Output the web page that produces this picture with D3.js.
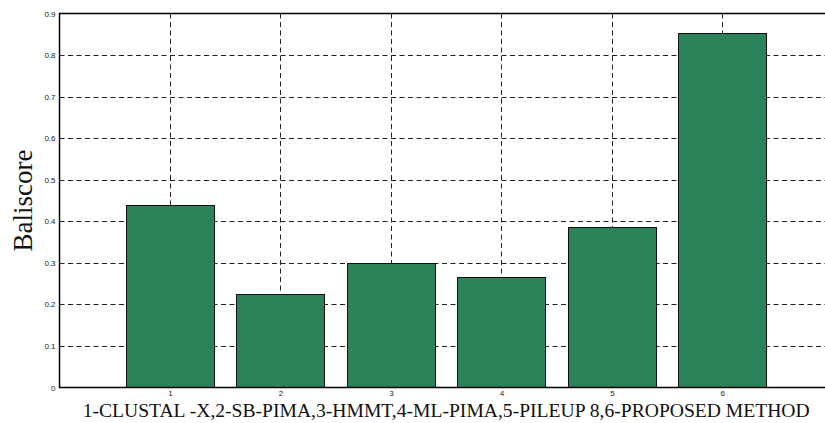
<!DOCTYPE html>
<html><head><meta charset="utf-8">
<script src="https://cdn.jsdelivr.net/npm/d3@7"></script>
<style>body{margin:0;background:#fff}svg{display:block}</style>
</head><body>
<svg id="c" width="825" height="423"></svg>
<script>
const categories = [1, 2, 3, 4, 5, 6];
const values = [0.439, 0.225, 0.300, 0.265, 0.386, 0.852];
const yTicks = [0, 0.1, 0.2, 0.3, 0.4, 0.5, 0.6, 0.7, 0.8, 0.9];
const xLabel = "1-CLUSTAL -X,2-SB-PIMA,3-HMMT,4-ML-PIMA,5-PILEUP 8,6-PROPOSED METHOD";
const yLabel = "Baliscore";

const svg = d3.select("#c");
const L = 59.5, T = 13.5, B = 387.5, R = 832.8;
const x = d3.scaleLinear().domain([0, 7]).range([L, R]);
const y = d3.scaleLinear().domain([0, 0.9]).range([B, T]);
const bw = (x(1) - x(0)) * 0.8;

// grid
const g = svg.append("g").attr("stroke", "#222").attr("stroke-width", 1).attr("stroke-dasharray", "5,3.5");
g.selectAll(".hg").data(yTicks.filter(d => d > 0 && d < 0.9)).join("line")
  .attr("x1", L).attr("x2", R).attr("y1", d => Math.round(y(d)) + 0.5).attr("y2", d => Math.round(y(d)) + 0.5);
g.selectAll(".vg").data(categories).join("line")
  .attr("y1", T).attr("y2", B).attr("x1", d => Math.round(x(d)) + 0.5).attr("x2", d => Math.round(x(d)) + 0.5);

// bars
svg.append("g").selectAll("rect").data(categories).join("rect")
  .attr("x", (d) => Math.round(x(d) - bw / 2) + 0.5)
  .attr("width", Math.round(bw))
  .attr("y", (d, i) => Math.round(y(values[i])) + 0.5)
  .attr("height", (d, i) => B - Math.round(y(values[i])) - 0.5)
  .attr("fill", "#2c8259").attr("stroke", "#111").attr("stroke-width", 1);

// axes
const yAxis = d3.axisLeft(y).tickValues(yTicks).tickSize(0).tickPadding(4)
  .tickFormat(d => d === 0 ? "0" : d3.format(".1f")(d));
const ya = svg.append("g").attr("transform", `translate(${L},0)`).call(yAxis);
ya.select(".domain").remove();
ya.selectAll("text").attr("font-family", "Liberation Sans, Arial, sans-serif").attr("font-size", 8).attr("fill", "#222");

const xAxis = d3.axisBottom(x).tickValues(categories).tickSize(0).tickPadding(3).tickFormat(d3.format("d"));
const xa = svg.append("g").attr("transform", `translate(0,${B})`).call(xAxis);
xa.select(".domain").remove();
xa.selectAll("text").attr("font-family", "Liberation Sans, Arial, sans-serif").attr("font-size", 8).attr("fill", "#222");

// frame
svg.append("path").attr("d", `M${R},${T}H${L}V${B}H${R}`).attr("fill", "none").attr("stroke", "#000").attr("stroke-width", 1.5);

// labels
svg.append("text").attr("x", (L + R) / 2).attr("y", 417).attr("text-anchor", "middle")
  .attr("font-family", "Liberation Serif, Times New Roman, serif").attr("font-size", 19.6).attr("fill", "#111").text(xLabel);
svg.append("text").attr("transform", `translate(32,${(T + B) / 2}) rotate(-90)`).attr("text-anchor", "middle")
  .attr("font-family", "Liberation Serif, Times New Roman, serif").attr("font-size", 27).attr("fill", "#111").text(yLabel);
</script>
</body></html>
